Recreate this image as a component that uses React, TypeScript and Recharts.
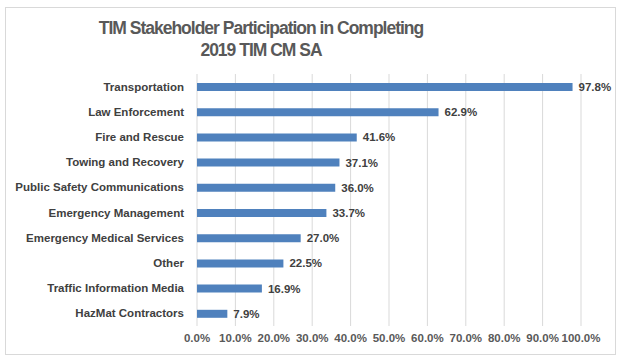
import React from 'react';
import { BarChart, Bar, XAxis, YAxis, CartesianGrid, LabelList } from 'recharts';

const categories = [
    'Transportation',
    'Law Enforcement',
    'Fire and Rescue',
    'Towing and Recovery',
    'Public Safety Communications',
    'Emergency Management',
    'Emergency Medical Services',
    'Other',
    'Traffic Information Media',
    'HazMat Contractors',
];

const participation = [97.8, 62.9, 41.6, 37.1, 36.0, 33.7, 27.0, 22.5, 16.9, 7.9];

const xTicks = [0, 10, 20, 30, 40, 50, 60, 70, 80, 90, 100];

const data = categories.map((name, i) => ({ name, value: participation[i] }));

const font = '"Liberation Sans", Arial, sans-serif';
const pct = (v: number) => `${Number(v).toFixed(1)}%`;

// single-line category label (the default tick wraps long names)
const CategoryTick = (props: any) => {
    const { x, y, payload } = props;
    return (
        <text
            x={x}
            y={y}
            dy="0.35em"
            textAnchor="end"
            fontSize={11.5}
            fontWeight="bold"
            fill="#404040"
            fontFamily={font}
        >
            {payload.value}
        </text>
    );
};

export default function App() {
    return (
        <div style={{ position: 'absolute', left: 0, top: 0, width: 621, height: 360, background: '#fff', fontFamily: font }}>
            <div
                style={{
                    position: 'absolute', left: 5, top: 7, width: 609, height: 346,
                    border: '1px solid #d9d9d9',
                }}
            />
            <div
                style={{
                    position: 'absolute', left: 0, top: 17, width: 522, textAlign: 'center',
                    fontSize: 17.5, fontWeight: 'bold', lineHeight: '22px', color: '#595959',
                    letterSpacing: -1,
                }}
            >
                TIM Stakeholder Participation in Completing<br />2019 TIM CM SA
            </div>
            <div style={{ position: 'absolute', left: 0, top: 0 }}>
                <BarChart
                    width={621}
                    height={360}
                    data={data}
                    layout="vertical"
                    margin={{ top: 74, right: 40, bottom: 14, left: 0 }}
                    barCategoryGap={0}
                >
                    <CartesianGrid horizontal={false} stroke="#d9d9d9" />
                    <XAxis
                        type="number"
                        domain={[0, 100]}
                        ticks={xTicks}
                        tickFormatter={pct}
                        axisLine={false}
                        tickLine={false}
                        height={20}
                        interval={0}
                        tick={{ fontSize: 11.5, fontWeight: 'bold', fill: '#595959', fontFamily: font }}
                    />
                    <YAxis
                        type="category"
                        dataKey="name"
                        width={197}
                        axisLine={false}
                        tickLine={false}
                        tickMargin={7}
                        interval={0}
                        tick={<CategoryTick />}
                    />
                    <Bar dataKey="value" fill="#4F81BD" barSize={8} isAnimationActive={false}>
                        <LabelList
                            dataKey="value"
                            position="right"
                            offset={6}
                            formatter={(v: any) => pct(v)}
                            style={{ fontSize: 11.5, fontWeight: 'bold', fill: '#404040', fontFamily: font }}
                        />
                    </Bar>
                </BarChart>
            </div>
        </div>
    );
}
